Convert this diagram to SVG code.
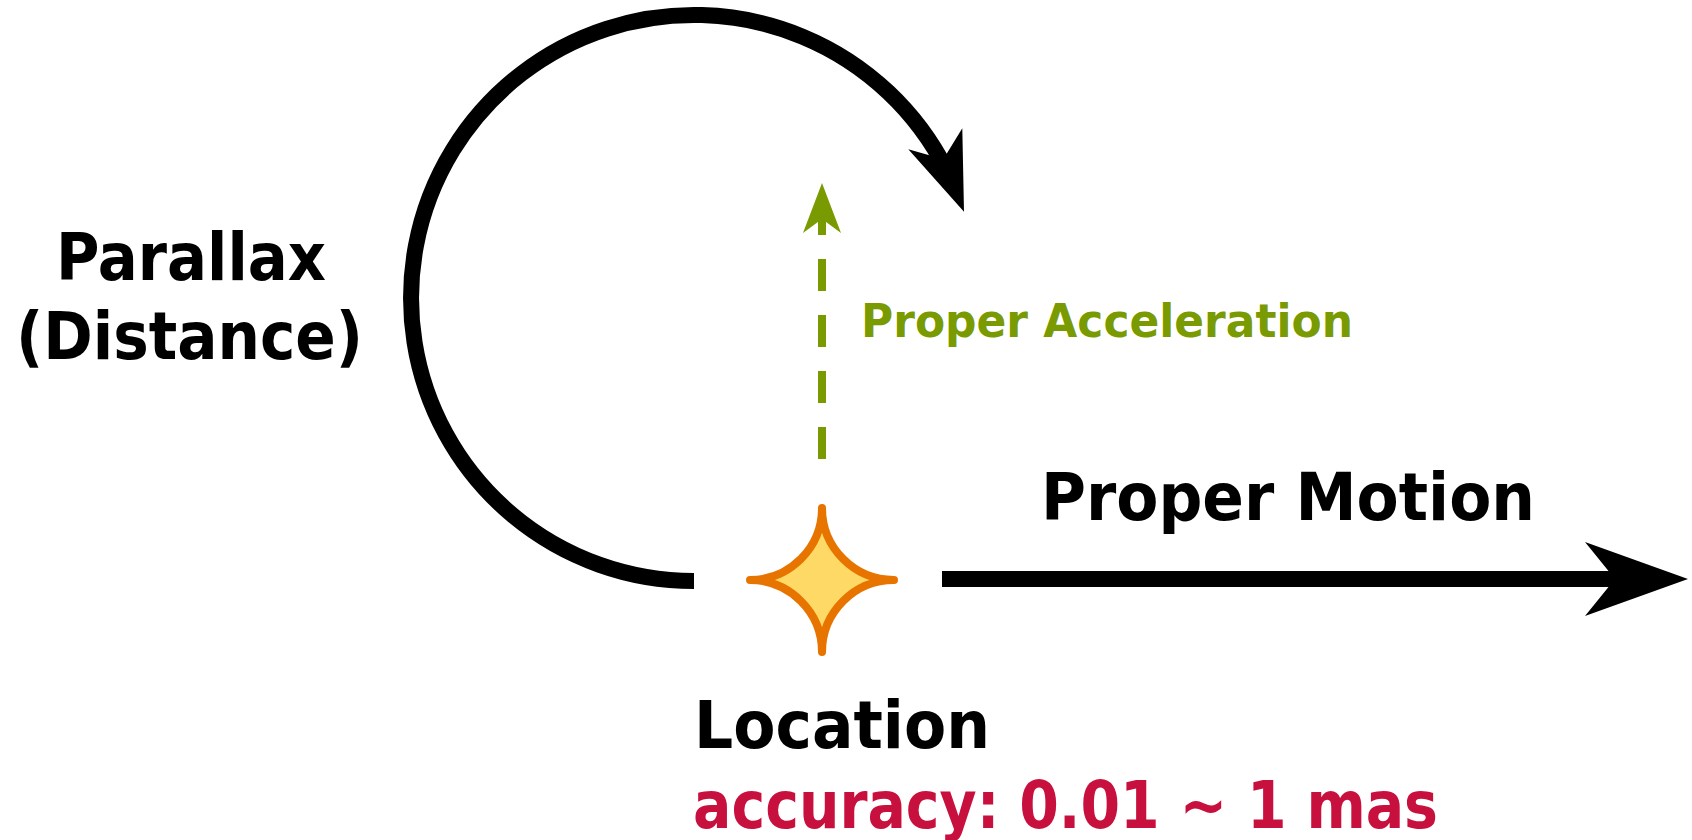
<svg xmlns="http://www.w3.org/2000/svg" width="1692" height="840" viewBox="0 0 1692 840">
  <style>
    .lbl { font-family: "DejaVu Sans", "Liberation Sans", sans-serif; font-weight: bold; }
    .big { font-size: 65px; fill: #000000; }
    .green { font-size: 46px; fill: #7A9A01; }
    .red { font-size: 65px; fill: #C8103E; }
    .blk { fill: none; stroke: #000000; stroke-width: 16; }
    .grn { fill: none; stroke: #7A9A01; stroke-width: 8; stroke-dasharray: 32 24; }
  </style>
  <rect x="0" y="0" width="1692" height="840" fill="#ffffff"/>
  <g id="connectors">
    <g id="parallax-arc">
      <path class="blk" d="M694,581 A283,283 0 1 1 946.2,169.5"/>
      <path d="M964,211.7 L962.3,128.3 L943.3,159.2 L908.3,149.3 Z" fill="#000000"/>
    </g>
    <g id="proper-motion-arrow">
      <path class="blk" d="M942,579 L1620,579"/>
      <path d="M1688,579 L1585,542 L1615,579 L1585,616 Z" fill="#000000"/>
    </g>
    <g id="proper-acceleration-arrow">
      <path class="grn" d="M822,459 L822,215"/>
      <path d="M822,183 L841,233 L822,219 L803,233 Z" fill="#7A9A01"/>
    </g>
  </g>
  <g id="star">
    <path d="M822,508 A72,72 0 0 0 894,580 A72,72 0 0 0 822,652 A72,72 0 0 0 750,580 A72,72 0 0 0 822,508 Z" fill="#FFD966" stroke="#E87400" stroke-width="8" stroke-linejoin="round"/>
  </g>
  <g id="label-parallax">
    <text class="lbl big" x="56" y="280" textLength="270" lengthAdjust="spacingAndGlyphs">Parallax</text>
    <text class="lbl big" x="16" y="359" textLength="347" lengthAdjust="spacingAndGlyphs">(Distance)</text>
  </g>
  <g id="label-proper-acceleration">
    <text class="lbl green" x="861" y="337" textLength="492" lengthAdjust="spacingAndGlyphs">Proper Acceleration</text>
  </g>
  <g id="label-proper-motion">
    <text class="lbl big" x="1041" y="520" textLength="494" lengthAdjust="spacingAndGlyphs">Proper Motion</text>
  </g>
  <g id="label-location">
    <text class="lbl big" x="694" y="748" textLength="296" lengthAdjust="spacingAndGlyphs">Location</text>
    <text class="lbl red" x="693" y="828" textLength="745" lengthAdjust="spacingAndGlyphs">accuracy: 0.01 ~ 1 mas</text>
  </g>
</svg>
